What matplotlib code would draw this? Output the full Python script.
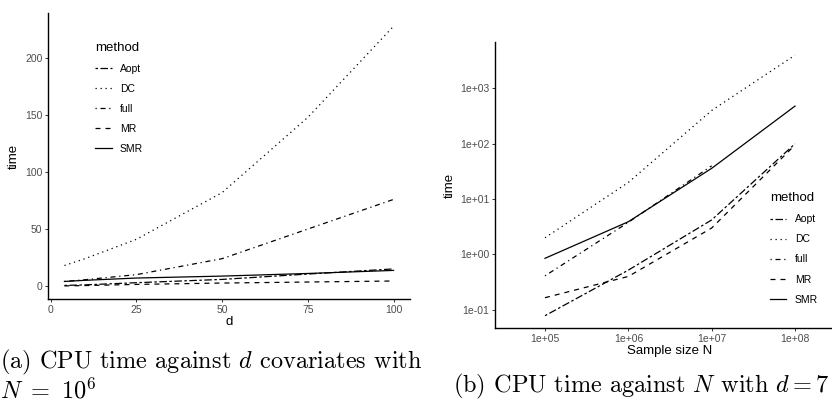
import matplotlib
matplotlib.use('Agg')
import matplotlib.pyplot as plt
from matplotlib.ticker import NullLocator

plt.rcParams['font.family'] = ['Liberation Sans', 'DejaVu Sans']
plt.rcParams['mathtext.fontset'] = 'cm'

methods = ['Aopt', 'DC', 'full', 'MR', 'SMR']
# ggplot-like linetypes: twodash, dotted, dotdash, dashed, solid
dash_styles = {'Aopt': (0, (2, 2, 6, 2)), 'DC': (0, (1, 3)), 'full': (0, (1, 3, 4, 3)),
               'MR': (0, (4, 4)), 'SMR': 'solid'}

# (a) time against d covariates, N = 1e6
d_vals = [4, 10, 25, 50, 75, 100]
time_d = {
    'Aopt': [0.5, 1.0, 2.9, 5.8, 10.5, 15.0],
    'DC':   [18, 24, 41, 82, 148, 228],
    'full': [4.0, 5.5, 10, 24, 50, 76],
    'MR':   [0.1, 0.4, 1.4, 2.6, 3.5, 4.4],
    'SMR':  [4.0, 5.0, 7.0, 8.7, 11.0, 13.7],
}

# (b) time against sample size N, d = 7
n_vals = [1e5, 1e6, 1e7, 1e8]
time_n = {
    'Aopt': [0.078, 0.52, 4.2, 100],
    'DC':   [2.0, 20, 400, 4000],
    'full': [0.41, 3.8, 40],
    'MR':   [0.165, 0.40, 3.0, 95],
    'SMR':  [0.85, 3.9, 36, 480],
}

fig = plt.figure(figsize=(8.32, 4.05), dpi=100)
ax1 = fig.add_axes([48 / 832, 1 - 299 / 405, 362 / 832, 286 / 405])
ax2 = fig.add_axes([495 / 832, 1 - 328 / 405, 350 / 832, 286 / 405])

lw = 0.9
for m in methods:
    ax1.plot(d_vals, time_d[m], color='black', lw=lw, linestyle=dash_styles[m], label=m)
    ax2.plot(n_vals[:len(time_n[m])], time_n[m], color='black', lw=lw,
             linestyle=dash_styles[m], label=m)

ax1.set_xlim(-0.8, 104.8)
ax1.set_ylim(-11.4, 239.6)
ax1.set_xticks([0, 25, 50, 75, 100])
ax1.set_yticks([0, 50, 100, 150, 200])
ax1.set_xlabel('d', fontsize=9.5, labelpad=1)
ax1.set_ylabel('time', fontsize=9.5, labelpad=4)

ax2.set_xscale('log')
ax2.set_yscale('log')
ax2.set_xlim(10 ** 4.4, 10 ** 8.6)
ax2.set_ylim(10 ** -1.33, 10 ** 3.84)
ax2.set_xticks(n_vals)
ax2.set_xticklabels(['1e+05', '1e+06', '1e+07', '1e+08'])
ax2.set_yticks([1e-1, 1e0, 1e1, 1e2, 1e3])
ax2.set_yticklabels(['1e-01', '1e+00', '1e+01', '1e+02', '1e+03'])
ax2.xaxis.set_minor_locator(NullLocator())
ax2.yaxis.set_minor_locator(NullLocator())
ax2.set_xlabel('Sample size N', fontsize=9.5, labelpad=1)
ax2.set_ylabel('time', fontsize=9.5, labelpad=3)

for ax in (ax1, ax2):
    for s in ('top', 'right'):
        ax.spines[s].set_visible(False)
    for s in ('left', 'bottom'):
        ax.spines[s].set_linewidth(1.0)
    ax.tick_params(direction='out', length=2.5, width=0.7, color='#333333',
                   labelcolor='#4D4D4D', labelsize=7.5, pad=1.5)

leg_kw = dict(frameon=False, title='method', fontsize=7.5, title_fontsize=9.5,
              handlelength=1.6, handletextpad=0.8, labelspacing=0.97,
              borderpad=0, borderaxespad=0, alignment='left')
ax1.legend(loc='upper left', bbox_to_anchor=(0.13, 0.9), **leg_kw)
ax2.legend(loc='upper left', bbox_to_anchor=(0.785, 0.475), **leg_kw)

fig.text(0.0, 1 - 368 / 405, r'(a) CPU time against $d$ covariates with', fontfamily='cmr10',
         fontsize=17.5, va='baseline', ha='left')
fig.text(0.0, 1 - 398 / 405, r'$N\ =\ 10^6$', fontsize=17.5, va='baseline', ha='left')
fig.text(453 / 832, 1 - 392 / 405, r'(b) CPU time against $N$ with $d=7$', fontfamily='cmr10',
         fontsize=17.5, va='baseline', ha='left')

fig.savefig('out.png', dpi=100)
